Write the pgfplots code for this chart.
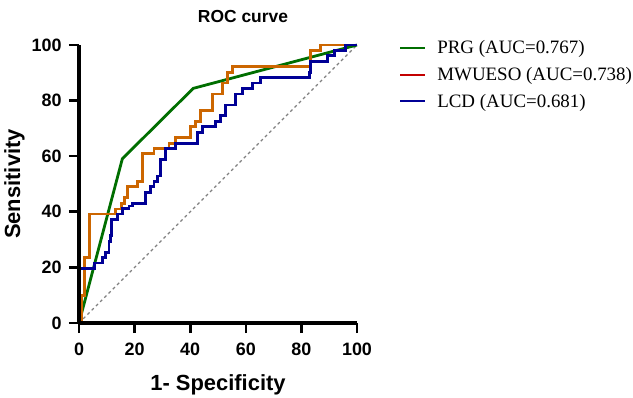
\documentclass[border=0pt]{standalone}
\usepackage{pgfplots}
\pgfplotsset{compat=1.18}
\usepackage{fontspec}
\setmainfont{Liberation Sans}
\newfontfamily\tnr{Liberation Serif}
\definecolor{cgreen}{RGB}{0,110,0}
\definecolor{corange}{RGB}{204,102,0}
\definecolor{cblue}{RGB}{0,0,150}
\definecolor{cred}{RGB}{195,0,0}
\begin{document}
\begin{tikzpicture}
\useasboundingbox (0,0) rectangle (633bp,398bp);
\begin{axis}[
  at={(79bp,75bp)}, anchor=south west,
  scale only axis, width=278bp, height=278bp,
  xmin=0, xmax=100, ymin=0, ymax=100,
  axis lines*=left,
  axis line style={line width=3bp},
  xtick={0,20,40,60,80,100}, ytick={0,20,40,60,80,100},
  xtick align=outside, ytick align=outside,
  major tick length=10bp,
  every tick/.style={line width=2.6bp, black},
  /pgf/number format/assume math mode=true,
  ticklabel style={font=\fontsize{18}{20}\selectfont\bfseries},
  xticklabel style={yshift=-6bp},
  yticklabel style={xshift=-4bp},
  xlabel={1- Specificity}, ylabel={Sensitivity},
  label style={font=\fontsize{22}{24}\selectfont\bfseries},
  xlabel style={yshift=-13bp},
  title={ROC curve},
  title style={font=\fontsize{17.5}{20}\selectfont\bfseries, yshift=13bp, xshift=25bp},
  legend style={at={(1.14,1.03)}, anchor=north west, draw=none, fill=none,
    font=\tnr\fontsize{19}{21}\selectfont, row sep=8bp},
  legend cell align=left,
  legend image code/.code={\draw[#1] (0bp,0bp) -- (25bp,0bp); \path (34bp,0bp);},
  clip=false,
]
\addlegendimage{cgreen, line width=2.2bp}
\addlegendentry{PRG (AUC=0.767)}
\addlegendimage{cred, line width=2.2bp}
\addlegendentry{MWUESO (AUC=0.738)}
\addlegendimage{cblue, line width=2.2bp}
\addlegendentry{LCD (AUC=0.681)}
\addplot[gray, dashed, line width=1.1bp, forget plot] coordinates {(0,0) (100,100)};
\addplot[cgreen, line width=2.8bp, forget plot] coordinates {(0,0) (15.6,59.1) (41.1,84.4) (100,100)};
\addplot[corange, line width=2.8bp, forget plot] coordinates {
(0,0) (0.8,0) (0.8,9.8) (2,9.8) (2,23.5) (3.9,23.5) (3.9,39.2) (13.2,39.2) (13.2,41) (15.2,41) (15.2,43.1) (16.4,43.1) (16.4,45) (17.4,45) (17.4,49) (21,49) (21,50.8) (22.8,50.8) (22.8,61) (27,61) (27,62.8) (32.4,62.8) (32.4,64.6) (34.8,64.6) (34.8,66.7) (40.2,66.7) (40.2,70.6) (42,70.6) (42,72.5) (43.8,72.5) (43.8,76.5) (48,76.5) (48,82.4) (51.6,82.4) (51.6,86.3) (53.4,86.3) (53.4,90.2) (55.2,90.2) (55.2,92.2) (83.4,92.2) (83.4,98) (87,98) (87,100) (100,100)};
\addplot[cblue, line width=2.8bp, forget plot] coordinates {
(0,0) (0,19.6) (5.6,19.6) (5.6,21.6) (8.4,21.6) (8.4,23.5) (9.6,23.5) (9.6,25.5) (10.8,25.5) (10.8,29.4) (11.4,29.4) (11.4,31.4) (11.8,31.4) (11.8,37.3) (13.8,37.3) (13.8,39.2) (15.6,39.2) (15.6,41.2) (18,41.2) (18,42.1) (19.2,42.1) (19.2,43.1) (24,43.1) (24,47) (25.8,47) (25.8,49) (27,49) (27,51) (28.2,51) (28.2,52.9) (29.4,52.9) (29.4,58.8) (31.2,58.8) (31.2,62.7) (34.8,62.7) (34.8,64.7) (42.6,64.7) (42.6,68.6) (44.4,68.6) (44.4,70.6) (49.2,70.6) (49.2,72.5) (51,72.5) (51,74.5) (52.8,74.5) (52.8,78.4) (56.4,78.4) (56.4,82.4) (58.8,82.4) (58.8,84.3) (62.4,84.3) (62.4,86.3) (65.4,86.3) (65.4,88.2) (82.8,88.2) (82.8,90.2) (83.4,90.2) (83.4,94.1) (89.4,94.1) (89.4,96.1) (91.8,96.1) (91.8,98) (96,98) (96,100) (100,100)};
\end{axis}
\fill[black] (77.5bp,75bp) rectangle (80.5bp,353bp);
\fill[black] (77.5bp,73.5bp) rectangle (357bp,76.5bp);
\foreach \i in {0,...,5} {
  \fill[black] ({(77.7+55.6*\i)*1bp},65bp) rectangle ({(80.3+55.6*\i)*1bp},75bp);
  \fill[black] (69bp,{(73.7+55.6*\i)*1bp}) rectangle (79bp,{(76.3+55.6*\i)*1bp});
}
\end{tikzpicture}
\end{document}
